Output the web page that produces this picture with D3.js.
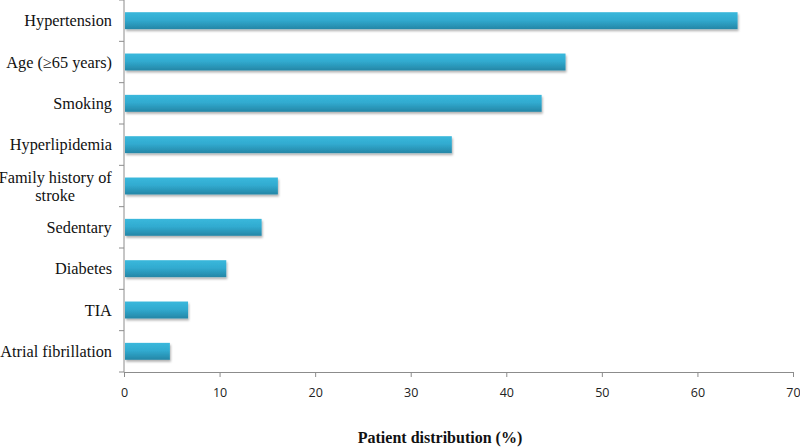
<!DOCTYPE html>
<html><head><meta charset="utf-8">
<script src="https://cdn.jsdelivr.net/npm/d3@7"></script>
<style>body{margin:0;background:#fff}</style>
</head><body>
<svg id="c" width="800" height="447"></svg>
<script>
const categories = ["Hypertension","Age (\u226565 years)","Smoking","Hyperlipidemia","Family history of|stroke","Sedentary","Diabetes","TIA","Atrial fibrillation"];
const values = [64.2, 46.2, 43.7, 34.3, 16.1, 14.4, 10.7, 6.7, 4.8];
const xTicks = [0,10,20,30,40,50,60,70];
const xTitle = "Patient distribution (%)";

const svg = d3.select("#c");
const m = {left:124, right:7, top:0, bottom:75};
const W = 800, H = 447;
const x = d3.scaleLinear().domain([0,70]).range([m.left, W-m.right]);
const y = d3.scaleBand().domain(categories).range([m.top, H-m.bottom]).paddingInner(0.59).paddingOuter(0.295);

const defs = svg.append("defs");
const g = defs.append("linearGradient").attr("id","bg").attr("x1",0).attr("y1",0).attr("x2",0).attr("y2",1);
g.append("stop").attr("offset","0%").attr("stop-color","#3ab8dc");
g.append("stop").attr("offset","45%").attr("stop-color","#31abd0");
g.append("stop").attr("offset","100%").attr("stop-color","#2586a6");
const f = defs.append("filter").attr("id","sh").attr("x","-5%").attr("y","-30%").attr("width","110%").attr("height","180%");
f.append("feDropShadow").attr("dx",1).attr("dy",2).attr("stdDeviation",1.2).attr("flood-color","#000").attr("flood-opacity",0.3);

svg.append("g").selectAll("rect").data(values).join("rect")
  .attr("x", x(0)+1)
  .attr("y", (d,i)=>y(categories[i]))
  .attr("width", d=>x(d)-x(0)-1)
  .attr("height", y.bandwidth())
  .attr("fill","url(#bg)")
  .attr("filter","url(#sh)");

// x axis
const xa = svg.append("g").attr("transform",`translate(0,${H-m.bottom})`)
  .call(d3.axisBottom(x).tickValues(xTicks).tickSize(5).tickSizeOuter(0).tickPadding(11));
xa.select(".domain").attr("stroke","#8c8c8c");
xa.selectAll(".tick line").attr("stroke","#8c8c8c");
xa.selectAll("text").attr("font-family","'Open Sans', sans-serif").attr("font-size",12.5).attr("fill","#222");

// y axis (ticks at band boundaries)
svg.append("line").attr("x1",x(0)).attr("x2",x(0)).attr("y1",m.top).attr("y2",H-m.bottom).attr("stroke","#8c8c8c");
const step = y.step();
const bounds = d3.range(categories.length+1).map(i=>m.top + i*step);
svg.append("g").selectAll("line").data(bounds).join("line")
  .attr("x1",x(0)-5).attr("x2",x(0)).attr("y1",d=>d).attr("y2",d=>d).attr("stroke","#8c8c8c");

const lab = svg.append("g").selectAll("text").data(categories).join("text")
  .attr("font-family","'Liberation Serif', 'Times New Roman', serif").attr("font-size",16.3).attr("fill","#111")
  .attr("text-anchor","middle");
lab.each(function(d){
  const parts = d.split("|");
  const t = d3.select(this);
  const cy = y(d)+y.bandwidth()/2;
  parts.forEach((p,k)=>{
    t.append("tspan").attr("x",0).attr("y", cy + (k-(parts.length-1)/2)*18 + 5.5).text(p);
  });
});
lab.each(function(){
  const bb = this.getBBox();
  d3.select(this).selectAll("tspan").attr("x", 112 - bb.width/2);
});

svg.append("text").attr("x",440).attr("y",443).attr("text-anchor","middle")
  .attr("font-family","'Liberation Serif', 'Times New Roman', serif").attr("font-weight","bold").attr("font-size",16).attr("fill","#111")
  .text(xTitle);
</script>
</body></html>
